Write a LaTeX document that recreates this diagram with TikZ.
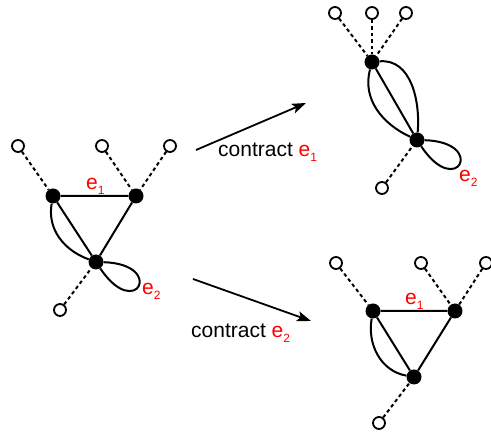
\documentclass[tikz,border=0pt]{standalone}
\usepackage{fontspec}
\setmainfont{Liberation Sans}
\usetikzlibrary{arrows.meta,positioning}
\newcommand{\dotsize}{15pt}
\newcommand{\legsize}{12pt}
\newcommand{\elab}[1]{e\raisebox{-5pt}{\fontsize{12}{12}\selectfont #1}}
\tikzset{
    vxsty/.style={circle,fill=black,inner sep=0pt,minimum size=\dotsize},
    legsty/.style={circle,draw,fill=white,line width=1.8pt,inner sep=0pt,minimum size=\legsize},
    edgesty/.style={line width=2pt},
    halfsty/.style={line width=2pt,dash pattern=on 3.5pt off 3pt},
    redsty/.style={text=red,inner sep=0pt,anchor=base west},
    opsty/.style={inner sep=0pt,anchor=base west},
    arrsty/.style={line width=1.8pt,-{Stealth[length=14pt,width=10pt,inset=3pt]}},
}

\begin{document}
\begin{tikzpicture}[x=1pt,y=1pt,font=\fontsize{21}{25}\selectfont]
  \useasboundingbox (0,0) rectangle (491,435);

  % left graph
  \node[vxsty] (A) at (53,239) {};
  \node[vxsty] (B) at (136,239) {};
  \node[vxsty] (C) at (96,173) {};
  \node[legsty] (a1) at (18,289) {};
  \node[legsty] (a2) at (102,289) {};
  \node[legsty] (a3) at (170,289) {};
  \node[legsty] (a4) at (60,125) {};
  \draw[halfsty] (a1) -- (A);
  \draw[halfsty] (a2) -- (B);
  \draw[halfsty] (a3) -- (B);
  \draw[halfsty] (a4) -- (C);
  \draw[edgesty] (A) -- (B) -- (C) -- (A);
  \draw[edgesty] (A) to[out=-100,in=160] (C);
  \draw[edgesty] (C) .. controls +(70,-2) and +(40,-60) .. (C);
  \node[redsty] (la) at (86,245) {\elab{1}};
  \node[redsty] (lb) at (142,140) {\elab{2}};

  % contract e1
  \node[vxsty] (D) at (372,373) {};
  \node[vxsty] (E) at (417,295) {};
  \node[legsty] (d1) at (335,422) {};
  \node[legsty] (d2) at (372,422) {};
  \node[legsty] (d3) at (406,422) {};
  \node[legsty] (d4) at (382,247) {};
  \draw[halfsty] (d1) -- (D);
  \draw[halfsty] (d2) -- (D);
  \draw[halfsty] (d3) -- (D);
  \draw[halfsty] (d4) -- (E);
  \draw[edgesty] (D) -- (E);
  \draw[edgesty] (D) to[out=-105,in=155] (E);
  \draw[edgesty] (D) to[out=5,in=85] (E);
  \draw[edgesty] (E) .. controls +(70,-2) and +(40,-60) .. (E);
  \node[redsty] (ld) at (459,253) {\elab{2}};

  % contract e2
  \node[vxsty] (F) at (373,124) {};
  \node[vxsty] (G) at (455,124) {};
  \node[vxsty] (H) at (414,58) {};
  \node[legsty] (f1) at (336,172) {};
  \node[legsty] (f2) at (421,172) {};
  \node[legsty] (f3) at (486,172) {};
  \node[legsty] (f4) at (379,12) {};
  \draw[halfsty] (f1) -- (F);
  \draw[halfsty] (f2) -- (G);
  \draw[halfsty] (f3) -- (G);
  \draw[halfsty] (f4) -- (H);
  \draw[edgesty] (F) -- (G) -- (H) -- (F);
  \draw[edgesty] (F) to[out=-100,in=170] (H);
  \node[redsty] (lf) at (405,130) {\elab{1}};

  % arrows
  \coordinate (p1) at (196,285);
  \coordinate (q1) at (306,332);
  \coordinate (p2) at (193,156);
  \coordinate (q2) at (311,114);
  \draw[arrsty] (p1) -- (q1);
  \draw[arrsty] (p2) -- (q2);
  \node[opsty] (t1) at (218,278) {contract \textcolor{red}{\elab{1}}};
  \node[opsty] (t2) at (191,97) {contract \textcolor{red}{\elab{2}}};
\end{tikzpicture}
\end{document}
